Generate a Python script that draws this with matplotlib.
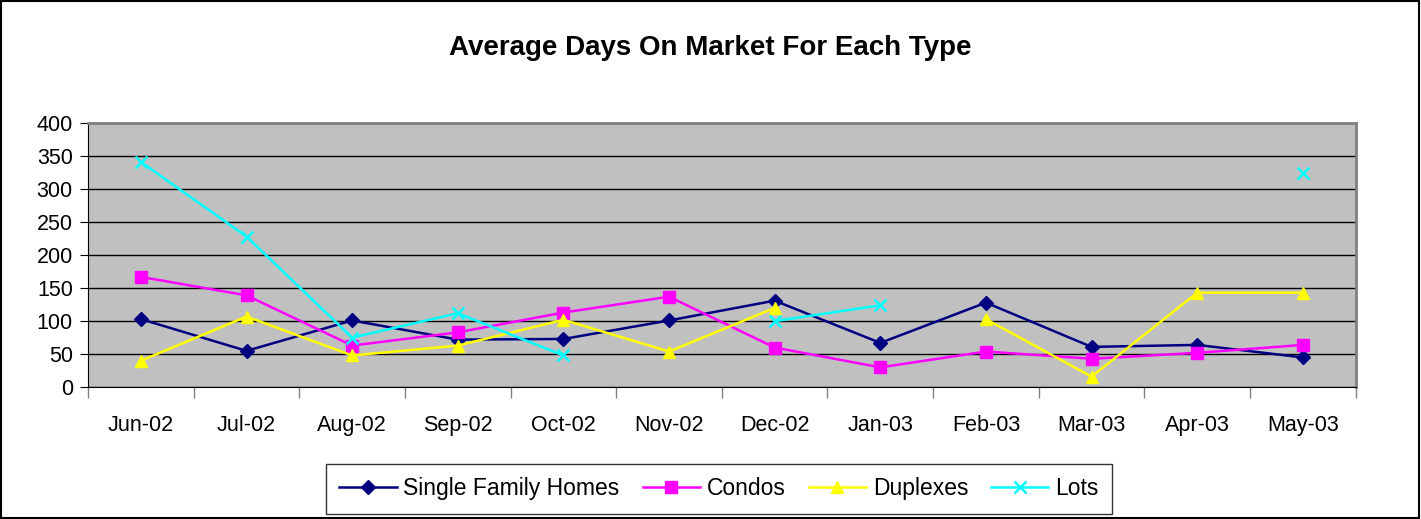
import numpy as np
import matplotlib.pyplot as plt
from matplotlib.patches import Rectangle

plt.rcParams['font.family'] = ['Liberation Sans', 'DejaVu Sans']

months = ['Jun-02', 'Jul-02', 'Aug-02', 'Sep-02', 'Oct-02', 'Nov-02',
          'Dec-02', 'Jan-03', 'Feb-03', 'Mar-03', 'Apr-03', 'May-03']
nan = np.nan
single_family = [103, 55, 101, 72, 73, 101, 131, 67, 128, 61, 64, 45]
condos = [167, 139, 63, 83, 113, 137, 60, 30, 54, 43, 52, 64]
duplexes = [40, 107, 48, 63, 102, 54, 120, nan, 103, 16, 143, 143]
lots = [341, 228, 75, 112, 48, nan, 100, 124, nan, nan, nan, 325]

fig = plt.figure(figsize=(14.21, 5.19), dpi=100)
ax = fig.add_axes([0.062, 0.254, 0.892, 0.509])
ax.set_facecolor('#C0C0C0')

x = np.arange(len(months))
ax.plot(x, single_family, color='#000080', marker='D', ms=7, lw=1.8, label='Single Family Homes')
ax.plot(x, condos, color='#FF00FF', marker='s', ms=8, lw=1.8, label='Condos')
ax.plot(x, duplexes, color='#FFFF00', marker='^', ms=9, lw=1.8, label='Duplexes')
ax.plot(x, lots, color='#00FFFF', marker='x', ms=9, mew=1.8, lw=1.8, label='Lots')

ax.set_ylim(0, 400)
ax.set_yticks(range(0, 401, 50))
ax.set_xlim(-0.5, len(months) - 0.5)
ax.set_xticks(x)
ax.set_xticklabels(months)
ax.set_xticks(np.arange(-0.5, len(months), 1), minor=True)
ax.tick_params(axis='x', which='major', length=0, pad=20, labelsize=15.5)
ax.tick_params(axis='x', which='minor', length=8, width=1, color='#808080')
ax.tick_params(axis='y', length=6, pad=5, labelsize=15.5)
ax.yaxis.grid(True, color='black', lw=1)
ax.set_axisbelow(True)
for s in ['top', 'right']:
    ax.spines[s].set_color('#808080')
    ax.spines[s].set_linewidth(2)
for s in ['left', 'bottom']:
    ax.spines[s].set_color('black')

fig.suptitle('Average Days On Market For Each Type', y=0.932, fontsize=20, fontweight='bold')

leg = fig.legend(loc='center', bbox_to_anchor=(0.506, 0.058), ncol=4, fontsize=16.5,
                 frameon=True, fancybox=False, edgecolor='black', handlelength=2.5,
                 columnspacing=1.0, handletextpad=0.3, borderpad=0.6)
leg.get_frame().set_linewidth(1)

fig.patches.append(Rectangle((0.0005, 0.001), 0.998, 0.997, transform=fig.transFigure,
                             fill=False, edgecolor='black', lw=1.5))

fig.savefig('out.png', dpi=100)
